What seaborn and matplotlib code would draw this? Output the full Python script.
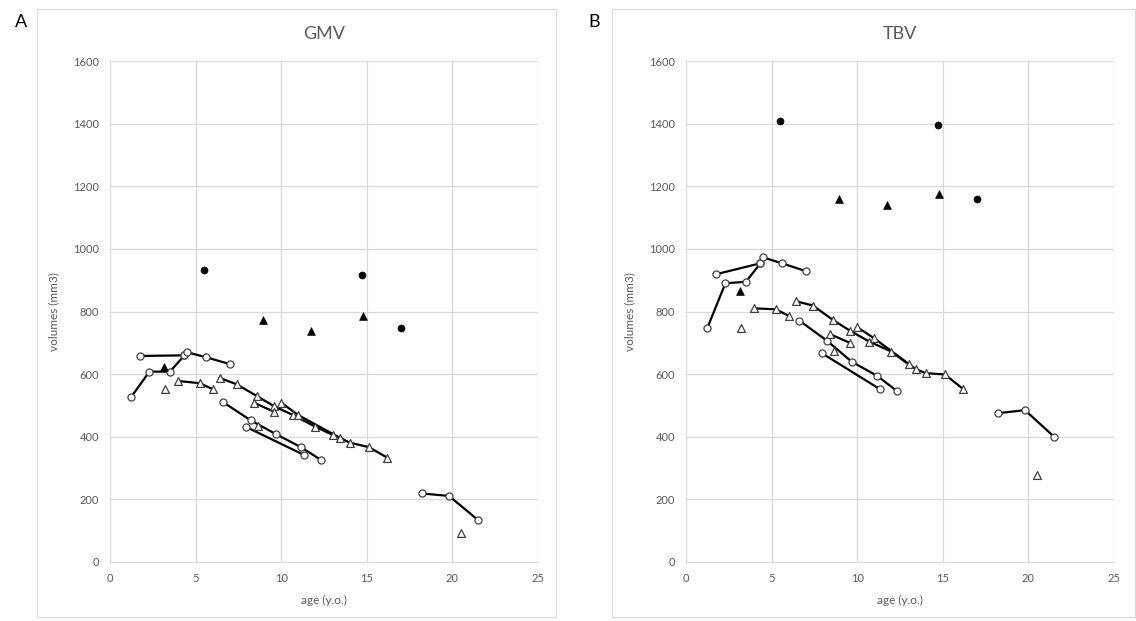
import matplotlib
matplotlib.use("Agg")
import matplotlib.pyplot as plt
import seaborn as sns
import pandas as pd
from matplotlib.patches import Rectangle

# open circles, connected per subject
circ_a_age = [1.25, 2.3, 3.5, 4.35]
circ_a_gmv = [528, 608, 608, 660]
circ_a_tbv = [748, 890, 895, 954]

circ_b_age = [1.75, 4.35]
circ_b_gmv = [658, 660]
circ_b_tbv = [919, 954]

circ_c_age = [4.5, 5.6, 7.0]
circ_c_gmv = [670, 654, 632]
circ_c_tbv = [973, 954, 929]

circ_d_age = [6.62, 8.23, 9.67, 11.18, 12.32]
circ_d_gmv = [510, 452, 409, 366, 326]
circ_d_tbv = [771, 707, 640, 594, 546]

circ_e_age = [7.96, 11.33]
circ_e_gmv = [431, 342]
circ_e_tbv = [666, 552]

circ_f_age = [18.2, 19.8, 21.5]
circ_f_gmv = [219, 211, 134]
circ_f_tbv = [475, 485, 400]

# open triangles, connected per subject
tri_a_age = [4.0, 5.25, 6.0]
tri_a_gmv = [578, 571, 552]
tri_a_tbv = [810, 807, 786]

tri_b_age = [6.4, 7.42, 8.58, 9.57, 10.7, 12.0, 13.0]
tri_b_gmv = [588, 567, 530, 498, 469, 432, 406]
tri_b_tbv = [833, 819, 773, 739, 704, 672, 631]

tri_c_age = [8.4, 9.57]
tri_c_gmv = [509, 480]
tri_c_tbv = [728, 700]

tri_d_age = [10.0, 11.0, 13.42, 14.0, 15.12, 16.2]
tri_d_gmv = [509, 469, 397, 381, 367, 333]
tri_d_tbv = [750, 714, 616, 603, 599, 552]

# single open triangles
tri_single_age = [3.2, 8.66, 20.5]
tri_single_gmv = [552, 434, 93]
tri_single_tbv = [748, 674, 278]

# filled markers
fcirc_age = [5.5, 14.7, 17.0]
fcirc_gmv = [932, 918, 748]
fcirc_tbv = [1408, 1395, 1158]

ftri_age = [3.17, 8.95, 11.72, 14.8]
ftri_gmv = [624, 772, 737, 785]
ftri_tbv = [866, 1160, 1140, 1176]

series = {
    "ca": ("o", circ_a_age, circ_a_gmv, circ_a_tbv),
    "cb": ("o", circ_b_age, circ_b_gmv, circ_b_tbv),
    "cc": ("o", circ_c_age, circ_c_gmv, circ_c_tbv),
    "cd": ("o", circ_d_age, circ_d_gmv, circ_d_tbv),
    "ce": ("o", circ_e_age, circ_e_gmv, circ_e_tbv),
    "cf": ("o", circ_f_age, circ_f_gmv, circ_f_tbv),
    "ta": ("^", tri_a_age, tri_a_gmv, tri_a_tbv),
    "tb": ("^", tri_b_age, tri_b_gmv, tri_b_tbv),
    "tc": ("^", tri_c_age, tri_c_gmv, tri_c_tbv),
    "td": ("^", tri_d_age, tri_d_gmv, tri_d_tbv),
}

rows = []
for name, (mk, ages, g, t) in series.items():
    for a, gv, tv in zip(ages, g, t):
        rows.append({"subject": name, "marker": mk, "age": a, "GMV": gv, "TBV": tv})
lines = pd.DataFrame(rows)

singles = pd.DataFrame({"age": tri_single_age, "GMV": tri_single_gmv, "TBV": tri_single_tbv})
filled_c = pd.DataFrame({"age": fcirc_age, "GMV": fcirc_gmv, "TBV": fcirc_tbv})
filled_t = pd.DataFrame({"age": ftri_age, "GMV": ftri_gmv, "TBV": ftri_tbv})

sns.set_style("white")
plt.rcParams["font.family"] = ["Lato", "DejaVu Sans"]

fig = plt.figure(figsize=(11.36, 6.21), dpi=100)
fig.patches.append(Rectangle((37 / 1136, 4 / 621), 519 / 1136, 608 / 621,
                             transform=fig.transFigure, fill=False, edgecolor="#d9d9d9", lw=0.8))
fig.patches.append(Rectangle((612 / 1136, 4 / 621), 523 / 1136, 608 / 621,
                             transform=fig.transFigure, fill=False, edgecolor="#d9d9d9", lw=0.8))

panels = [("GMV", "A", 110, 15), ("TBV", "B", 686, 588)]
grey = "#595959"
edge = "#404040"

for col, letter, left_px, letter_px in panels:
    ax = fig.add_axes([left_px / 1136, 59 / 621, 428 / 1136, 501 / 621])
    sns.lineplot(data=lines, x="age", y=col, units="subject", estimator=None,
                 sort=False, color="black", lw=1.6, ax=ax, legend=False)
    sub = lines[lines["marker"] == "o"]
    sns.scatterplot(data=sub, x="age", y=col, marker="o", color="white",
                    edgecolor=edge, linewidth=0.9, s=26, ax=ax, zorder=3)
    sub = lines[lines["marker"] == "^"]
    sns.scatterplot(data=sub, x="age", y=col, marker="^", color="white",
                    edgecolor=edge, linewidth=0.9, s=32, ax=ax, zorder=3)
    sns.scatterplot(data=singles, x="age", y=col, marker="^", color="white",
                    edgecolor=edge, linewidth=0.9, s=32, ax=ax, zorder=3)
    sns.scatterplot(data=filled_c, x="age", y=col, marker="o", color="black",
                    edgecolor="black", s=26, ax=ax, zorder=3)
    sns.scatterplot(data=filled_t, x="age", y=col, marker="^", color="black",
                    edgecolor="black", s=32, ax=ax, zorder=3)

    ax.set_xlim(0, 25)
    ax.set_ylim(0, 1600)
    ax.set_xticks(range(0, 26, 5))
    ax.set_yticks(range(0, 1601, 200))
    ax.grid(True, color="#d9d9d9", lw=0.9)
    ax.set_axisbelow(True)
    for s in ["top", "right", "left"]:
        ax.spines[s].set_visible(False)
    ax.spines["bottom"].set_color("#d9d9d9")
    ax.tick_params(length=0, labelsize=8, labelcolor=grey, pad=8)
    ax.set_xlabel("age (y.o.)", fontsize=8.5, color=grey, labelpad=8)
    ax.set_ylabel("volumes (mm3)", fontsize=8.5, color=grey, labelpad=10)
    ax.set_title(col, fontsize=13, color=grey, pad=16)
    fig.text(letter_px / 1136, 1 - 22 / 621, letter, fontsize=13, color="black", va="center")

fig.savefig("out.png", dpi=100)
